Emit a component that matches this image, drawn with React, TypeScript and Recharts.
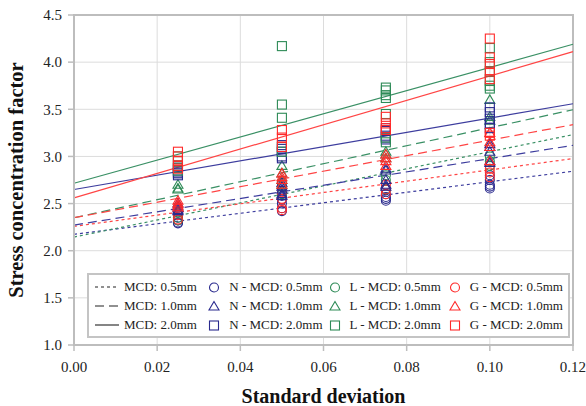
import React from 'react';
import {
  ComposedChart,
  Line,
  Scatter,
  XAxis,
  YAxis,
  CartesianGrid,
  ReferenceArea,
} from 'recharts';

// standard deviations where the samples were taken
const SD = [0.025, 0.05, 0.075, 0.1];

// sampled stress concentration factors, one list per SD value
const N_05 = [[2.35, 2.32, 2.3, 2.29], [2.58, 2.54, 2.5, 2.45, 2.42], [2.65, 2.6, 2.57, 2.55, 2.53], [2.8, 2.75, 2.7, 2.68, 2.66]];
const N_10 = [[2.5, 2.47, 2.45, 2.43, 2.42], [2.72, 2.68, 2.65, 2.6, 2.58], [2.87, 2.85, 2.75, 2.7, 2.68], [3.13, 3.1, 3.05, 2.95, 2.93]];
const N_20 = [[2.88, 2.85, 2.83, 2.82, 2.8], [3.12, 3.08, 3.05, 3.0, 2.98], [3.3, 3.27, 3.22, 3.2, 3.18], [3.52, 3.47, 3.4, 3.35, 3.3]];
const L_05 = [[2.4, 2.35, 2.32], [2.72, 2.68, 2.6], [2.8, 2.75, 2.65], [3.0, 2.95, 2.9]];
const L_10 = [[2.7, 2.66, 2.65], [2.9, 2.82, 2.75, 2.7], [3.05, 3.02, 2.98], [3.6, 3.42, 3.38]];
const L_20 = [[3.0, 2.95, 2.9, 2.88, 2.85], [4.17, 3.55, 3.41, 3.1, 3.05], [3.73, 3.7, 3.65, 3.62, 3.45, 3.2, 3.15], [4.15, 4.0, 3.9, 3.8, 3.75, 3.72]];
const G_05 = [[2.45, 2.38, 2.33], [2.62, 2.55, 2.45, 2.43], [2.7, 2.65, 2.6], [2.87, 2.83, 2.78]];
const G_10 = [[2.53, 2.5, 2.48, 2.46], [2.82, 2.78, 2.75, 2.7], [3.02, 2.98, 2.95, 2.9], [3.25, 3.15, 3.1, 2.95]];
const G_20 = [[3.05, 3.0, 2.95, 2.9, 2.87], [3.28, 3.2, 3.1], [3.42, 3.35, 3.3, 3.28], [4.25, 4.05, 3.98, 3.9, 3.82, 3.25, 3.22]];

// fitted trend lines: value at SD = 0 and SD = 0.12
const FIT_X = [0, 0.12];
const N_FIT_05 = [2.174, 2.843];
const N_FIT_10 = [2.272, 3.118];
const N_FIT_20 = [2.649, 3.559];
const L_FIT_05 = [2.145, 3.231];
const L_FIT_10 = [2.35, 3.495];
const L_FIT_20 = [2.716, 4.19];
const G_FIT_05 = [2.258, 2.977];
const G_FIT_10 = [2.35, 3.337];
const G_FIT_20 = [2.561, 4.112];

const X_TICKS = [0, 0.02, 0.04, 0.06, 0.08, 0.1, 0.12];
const Y_TICKS = [1.0, 1.5, 2.0, 2.5, 3.0, 3.5, 4.0, 4.5];

const NAVY = '#2a2a8e';
const GREEN = '#2e8b57';
const RED = '#ff2a2a';
const NAVY_LINE = '#3d3d9e';
const GREEN_LINE = '#3a9065';
const RED_LINE = '#ff4545';

const DOT = '3 3';
const DASH = '9 5';

const FONT = '"Liberation Serif", "Times New Roman", serif';

const toPoints = (groups: number[][]) =>
  groups.flatMap((vals, i) => vals.map((y) => ({ x: SD[i], y })));

const toFit = (vals: number[]) => FIT_X.map((x, i) => ({ x, y: vals[i] }));

type Kind = 'circle' | 'triangle' | 'square';

const Marker = ({ cx, cy, kind, color }: any) => {
  if (cx == null || cy == null) return null;
  if (kind === 'circle') {
    return <circle cx={cx} cy={cy} r={4.5} fill="none" stroke={color} strokeWidth={1.1} />;
  }
  if (kind === 'triangle') {
    return (
      <polygon
        points={`${cx},${cy - 5} ${cx - 5},${cy + 3.5} ${cx + 5},${cy + 3.5}`}
        fill="none"
        stroke={color}
        strokeWidth={1.1}
      />
    );
  }
  return <rect x={cx - 4.5} y={cy - 4.5} width={9} height={9} fill="none" stroke={color} strokeWidth={1.1} />;
};

const LegendMarker = ({ kind, color }: { kind: Kind; color: string }) => (
  <svg width={14} height={14} style={{ marginRight: 8 }}>
    <Marker cx={7} cy={7.5} kind={kind} color={color} />
  </svg>
);

const LegendLine = ({ dash }: { dash?: string }) => (
  <svg width={24} height={10} style={{ marginRight: 5 }}>
    <line x1={0} y1={5} x2={24} y2={5} stroke="#222" strokeWidth={1.1} strokeDasharray={dash} />
  </svg>
);

const SIZES = ['0.5mm', '1.0mm', '2.0mm'];
const KINDS: Kind[] = ['circle', 'triangle', 'square'];
const DASHES = [DOT, DASH, undefined];
const GROUPS = [
  { prefix: 'N - ', color: NAVY },
  { prefix: 'L - ', color: GREEN },
  { prefix: 'G - ', color: RED },
];

const LegendBox = () => (
  <div
    style={{
      position: 'absolute',
      left: 87,
      top: 273,
      width: 479,
      height: 61,
      border: '2px solid #c4c4c4',
      background: '#fff',
      fontFamily: FONT,
      fontSize: 13,
      color: '#222',
      display: 'flex',
      flexDirection: 'column',
      justifyContent: 'center',
      gap: 2,
    }}
  >
    {SIZES.map((size, r) => (
      <div key={size} style={{ display: 'flex', alignItems: 'center', height: 17 }}>
        <div style={{ width: 114, display: 'flex', alignItems: 'center', paddingLeft: 6 }}>
          <LegendLine dash={DASHES[r]} />
          <span>MCD: {size}</span>
        </div>
        {GROUPS.map((g) => (
          <div key={g.prefix} style={{ width: 122, display: 'flex', alignItems: 'center' }}>
            <LegendMarker kind={KINDS[r]} color={g.color} />
            <span>
              {g.prefix}MCD: {size}
            </span>
          </div>
        ))}
      </div>
    ))}
  </div>
);

const scatterSeries = [
  { name: 'N-0.5', data: toPoints(N_05), kind: 'circle', color: NAVY },
  { name: 'L-0.5', data: toPoints(L_05), kind: 'circle', color: GREEN },
  { name: 'G-0.5', data: toPoints(G_05), kind: 'circle', color: RED },
  { name: 'N-1.0', data: toPoints(N_10), kind: 'triangle', color: NAVY },
  { name: 'L-1.0', data: toPoints(L_10), kind: 'triangle', color: GREEN },
  { name: 'G-1.0', data: toPoints(G_10), kind: 'triangle', color: RED },
  { name: 'N-2.0', data: toPoints(N_20), kind: 'square', color: NAVY },
  { name: 'L-2.0', data: toPoints(L_20), kind: 'square', color: GREEN },
  { name: 'G-2.0', data: toPoints(G_20), kind: 'square', color: RED },
];

const fitSeries = [
  { name: 'N fit 0.5', data: toFit(N_FIT_05), color: NAVY_LINE, dash: DOT },
  { name: 'L fit 0.5', data: toFit(L_FIT_05), color: GREEN_LINE, dash: DOT },
  { name: 'G fit 0.5', data: toFit(G_FIT_05), color: RED_LINE, dash: DOT },
  { name: 'N fit 1.0', data: toFit(N_FIT_10), color: NAVY_LINE, dash: DASH },
  { name: 'L fit 1.0', data: toFit(L_FIT_10), color: GREEN_LINE, dash: DASH },
  { name: 'G fit 1.0', data: toFit(G_FIT_10), color: RED_LINE, dash: DASH },
  { name: 'N fit 2.0', data: toFit(N_FIT_20), color: NAVY_LINE, dash: undefined },
  { name: 'L fit 2.0', data: toFit(L_FIT_20), color: GREEN_LINE, dash: undefined },
  { name: 'G fit 2.0', data: toFit(G_FIT_20), color: RED_LINE, dash: undefined },
];

export default function App() {
  return (
    <div style={{ position: 'absolute', left: 0, top: 0, width: 586, height: 406, background: '#fff' }}>
      <ComposedChart
        width={586}
        height={406}
        margin={{ top: 15, right: 13, bottom: 0, left: 0 }}
        style={{ fontFamily: FONT }}
      >
        <CartesianGrid stroke="#dcdcdc" strokeWidth={1} />
        <XAxis
          dataKey="x"
          type="number"
          domain={[0, 0.12]}
          ticks={X_TICKS}
          tickFormatter={(v: number) => v.toFixed(2)}
          height={61}
          axisLine={{ stroke: '#bdbdbd', strokeWidth: 2 }}
          tickLine={{ stroke: '#bdbdbd', strokeWidth: 1.5 }}
          tickSize={6}
          tickMargin={10}
          tick={{ fill: '#222', fontSize: 15 }}
          allowDuplicatedCategory={false}
          label={{
            value: 'Standard deviation',
            position: 'insideBottom',
            offset: 3,
            style: { fontSize: 20, fontWeight: 'bold', fill: '#111' },
          }}
        />
        <YAxis
          dataKey="y"
          type="number"
          domain={[1, 4.5]}
          ticks={Y_TICKS}
          tickFormatter={(v: number) => v.toFixed(1)}
          width={74}
          axisLine={{ stroke: '#bdbdbd', strokeWidth: 2 }}
          tickLine={{ stroke: '#bdbdbd', strokeWidth: 1.5 }}
          tickSize={6}
          tickMargin={6}
          tick={{ fill: '#222', fontSize: 15 }}
          label={{
            value: 'Stress concentration factor',
            angle: -90,
            position: 'insideLeft',
            offset: 16,
            style: { fontSize: 20.5, fontWeight: 'bold', fill: '#111', textAnchor: 'middle' },
          }}
        />
        <ReferenceArea x1={0} x2={0.12} y1={1} y2={4.5} fill="none" stroke="#bdbdbd" strokeWidth={2} />
        {scatterSeries.map((s) => (
          <Scatter
            key={s.name}
            name={s.name}
            data={s.data}
            dataKey="y"
            isAnimationActive={false}
            shape={(p: any) => <Marker cx={p.cx} cy={p.cy} kind={s.kind} color={s.color} />}
          />
        ))}
        {fitSeries.map((f) => (
          <Line
            key={f.name}
            name={f.name}
            data={f.data}
            dataKey="y"
            type="linear"
            stroke={f.color}
            strokeWidth={1.2}
            strokeDasharray={f.dash}
            dot={false}
            activeDot={false}
            isAnimationActive={false}
          />
        ))}
      </ComposedChart>
      <LegendBox />
    </div>
  );
}
